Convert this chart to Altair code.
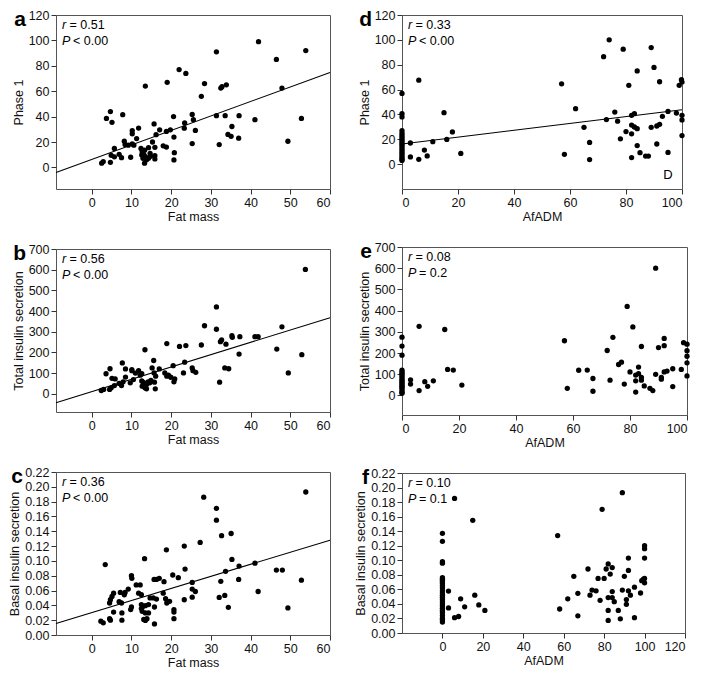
import altair as alt
import pandas as pd

FONT = "Liberation Sans"

# ---------------- Panel a: Phase 1 vs Fat mass ----------------
a_x = [42.0, 53.9, 31.4, 46.5, 22.0, 23.7, 13.5, 19.0, 28.4, 32.5, 32.8, 33.9, 47.9, 27.6,
       4.7, 3.7, 5.1, 7.8, 20.6, 25.3, 25.6, 31.4, 33.6, 37.1, 41.1, 52.8, 15.7, 23.4, 35.3,
       11.8, 10.2, 10.2, 17.1, 18.8, 19.8, 23.3, 26.1, 16.2, 34.3, 35.1, 37.0, 20.7, 11.3,
       8.2, 15.3, 25.3, 32.1, 49.4, 8.4, 9.2, 10.2, 10.6, 12.4, 14.3, 15.9, 18.0, 18.8, 5.7,
       12.7, 13.3, 13.1, 14.7, 20.8, 6.9, 4.9, 5.7, 7.5, 9.8, 12.9, 13.5, 14.3, 15.9, 15.9,
       13.3, 20.7, 4.7, 2.5, 2.9, 12.6, 13.8, 14.8]
a_y = [99, 92, 91, 85, 77, 74, 64, 67, 66, 62.5, 63.5, 65, 62.5, 56,
       44, 38.6, 35.5, 41.5, 40, 41.7, 37.6, 40.7, 40.7, 40.7, 37.6, 38.6, 34.2, 35, 32.2,
       31, 29, 26.5, 29.6, 28.3, 29.6, 30.9, 29.1, 25.8, 26, 24.5, 23, 23.9, 22.7,
       20.6, 20, 18.8, 18, 20.6, 18, 17.5, 18.5, 17.5, 14.9, 15.5, 15.8, 17, 16, 14.9,
       12.4, 13.6, 10.3, 11.1, 11.6, 10.3, 9.5, 8.3, 7.7, 8, 7.2, 8.5, 7.2, 9.3, 6.7,
       3.3, 5.9, 4, 3.3, 4.6, 9.8, 6, 8.8]
a_line_x = [-9, 60]
a_line_y = [-4, 74.7]

# ---------------- Panel b: Total insulin secretion vs Fat mass ----------------
b_x = [53.8, 31.4, 28.4, 31.4, 47.9, 18.9, 13.4, 22.1, 23.7, 27.6, 32.4, 32.7, 33.8, 35.3,
       35.4, 37.3, 41.1, 41.9, 37.1, 46.6, 52.9, 49.5, 32.2, 33.5, 34.5, 20.5, 23.4, 23.1,
       25.3, 25.5, 26.2, 7.7, 15.6, 10.1, 10.1, 8.5, 11.8, 12.6, 15.2, 17.0, 4.6, 3.6, 18.4,
       18.9, 19.3, 19.9, 15.7, 16.1, 5.1, 5.9, 8.5, 10.5, 20.9, 20.7, 9.7, 7.9, 7.5, 5.7,
       6.9, 12.6, 13.0, 13.4, 14.2, 14.9, 12.7, 13.4, 13.8, 14.6, 15.8, 16.0, 4.9, 4.5, 2.4,
       3.0, 13.8, 12.2, 11.0, 13.2]
b_y = [601, 420, 329, 312, 324, 243, 213, 229, 233, 236, 252, 260, 240, 281,
       273, 276, 276, 276, 192, 216, 189, 101, 56, 125, 121, 136, 153, 101,
       125, 112, 104, 149, 161, 112, 117, 120, 112, 97, 125, 120, 121, 97, 101,
       85, 90, 80, 101, 85, 75, 72, 81, 69, 72, 58, 53, 58, 40, 40,
       50, 62, 55, 48, 58, 65, 37, 29, 45, 53, 56, 24, 29, 21, 16,
       21, 24, 90, 100, 40]
b_line_x = [-9, 60]
b_line_y = [-43, 368]

# ---------------- Panel c: Basal insulin secretion vs Fat mass ----------------
c_x = [53.9, 28.2, 31.4, 31.4, 35.1, 32.7, 27.3, 23.3, 18.8, 13.3, 3.4, 35.3, 23.5, 41.1,
       37.1, 33.7, 46.5, 48.0, 10.0, 10.1, 20.4, 21.8, 15.7, 16.3, 17.0, 18.2, 32.5, 37.0,
       52.8, 11.2, 12.2, 25.3, 9.2, 25.3, 26.1, 41.9, 11.8, 12.5, 5.5, 7.2, 8.2, 8.4, 18.0,
       5.1, 4.7, 4.5, 6.9, 7.5, 14.7, 15.5, 25.3, 32.1, 33.5, 12.5, 12.8, 13.5, 14.3, 16.3,
       18.6, 18.9, 19.6, 23.3, 10.0, 9.8, 12.5, 12.7, 14.3, 13.5, 7.6, 5.5, 15.8, 20.7, 20.7,
       34.4, 49.4, 13.1, 13.5, 13.9, 20.7, 4.5, 4.7, 7.6, 2.3, 2.9, 15.8]
c_y = [0.193, 0.186, 0.171, 0.155, 0.137, 0.134, 0.125, 0.120, 0.115, 0.103, 0.095, 0.102, 0.089, 0.097,
       0.093, 0.086, 0.0877, 0.0877, 0.080, 0.0765, 0.081, 0.0774, 0.075, 0.075, 0.0765, 0.072, 0.0725, 0.075,
       0.074, 0.0676, 0.0676, 0.071, 0.062, 0.062, 0.0587, 0.0587, 0.0565, 0.0543, 0.0565, 0.0574, 0.0543, 0.0574, 0.0565,
       0.052, 0.0476, 0.0432, 0.045, 0.0432, 0.050, 0.050, 0.051, 0.0507, 0.0534, 0.041, 0.038, 0.0396, 0.041, 0.0485,
       0.049, 0.0432, 0.0454, 0.0476, 0.0378, 0.0343, 0.0356, 0.032, 0.0298, 0.0298, 0.0298, 0.031, 0.0378, 0.0343, 0.031,
       0.0374, 0.0365, 0.021, 0.0196, 0.022, 0.022, 0.022, 0.020, 0.020, 0.0187, 0.0165, 0.015]
c_line_x = [-9, 60]
c_line_y = [0.0156, 0.128]

# ---------------- Panel d: Phase 1 vs AfADM ----------------
d_x = [0] * 20 + [
    74, 72, 79, 89, 90, 84, 6, 57, 81, 92, 99.8, 100, 99, 62, 15, 76, 82, 83, 95, 98, 100, 100,
    93, 73, 77, 82, 83, 84, 89, 91, 92, 65, 18, 82, 80, 16, 78, 100, 3, 11, 67, 84, 91, 8, 85,
    95, 21, 58, 9, 3, 87, 88, 6, 67, 82]
d_y = [56.9, 40.6, 38, 27, 25, 23.5, 22, 20.5, 19, 17.5, 16, 14.5, 13, 11.5, 10, 8.5, 7, 5.5, 4, 3] + [
    100, 86.5, 92.5, 93.8, 77.8, 75, 67.6, 64.6, 63.4, 66.3, 68, 66, 63.4, 44.6, 41.4, 41.9, 39.3,
    40.6, 42.4, 41.1, 39.3, 35.6, 38.5, 35.9, 34.6, 31.4, 29.9, 28.5, 29.6, 30.7, 32, 29.6, 25.9,
    24.4, 26.2, 19.9, 20.4, 23, 17, 18.1, 17.5, 14.9, 16.2, 11.3, 9.2, 9.4, 8.6, 7.9, 6.6, 5.8,
    6.5, 6.5, 3.9, 3.7, 5.3]
d_line_x = [0, 100]
d_line_y = [16.2, 43.8]

# ---------------- Panel e: Total insulin secretion vs AfADM ----------------
e_x = [0] * 19 + [
    79, 81, 6, 15, 57, 74, 92, 92, 84, 90, 98.8, 100, 100, 100, 100, 72, 77, 76, 62, 65, 16, 18,
    83, 80, 82, 83, 84, 84, 89, 91, 91, 92, 93, 95, 98, 100, 67, 73, 78, 82, 85, 87, 88, 95, 58,
    67, 82, 89, 3, 3, 8, 9, 11, 21, 6]
e_y = [275, 233, 190, 120, 112, 105, 97, 90, 80, 72, 65, 58, 50, 44, 38, 30, 22, 15, 10] + [
    420, 323, 326, 311, 258, 274, 269, 235, 231, 226, 249, 242, 211, 185, 154, 212, 157, 146, 119,
    120, 123, 120, 134, 111, 96, 103, 85, 72, 100, 85, 77, 111, 115, 126, 123, 92, 80, 72, 54, 69,
    45, 34, 23, 42, 34, 20, 16, 600, 74, 54, 65, 43, 69, 49, 23]

# ---------------- Panel f: Basal insulin secretion vs AfADM ----------------
f_x = [0] * 26 + [
    89, 79, 6, 15, 57, 100, 100, 100, 92, 72, 81, 82, 84, 83, 92, 65, 77, 80, 90, 99.4, 100, 100,
    98.6, 95, 67, 74, 76, 73, 84, 89, 92, 98, 93, 62, 78, 82, 84, 85, 91, 91, 58, 82, 87, 67, 82,
    88, 95, 3, 3, 9, 11, 16, 18, 21, 6, 8]
f_y = [0.137, 0.126, 0.098, 0.096, 0.076, 0.074, 0.072, 0.070, 0.068, 0.065, 0.062, 0.058, 0.055,
       0.052, 0.049, 0.046, 0.043, 0.040, 0.037, 0.034, 0.031, 0.028, 0.024, 0.020, 0.018, 0.015] + [
    0.193, 0.170, 0.185, 0.155, 0.134, 0.120, 0.116, 0.103, 0.103, 0.088, 0.088, 0.095, 0.090, 0.081,
    0.086, 0.078, 0.075, 0.075, 0.078, 0.074, 0.075, 0.069, 0.072, 0.063, 0.0545, 0.059, 0.058, 0.052,
    0.057, 0.059, 0.058, 0.055, 0.052, 0.047, 0.045, 0.0487, 0.0487, 0.043, 0.046, 0.0395, 0.033,
    0.031, 0.031, 0.0236, 0.0173, 0.0195, 0.021, 0.0577, 0.0345, 0.047, 0.036, 0.052, 0.0386, 0.031,
    0.021, 0.0227]

fat_ticks = [0, 10, 20, 30, 40, 50, 60]
adm_ticks = [0, 20, 40, 60, 80, 100]
adm_ticks_f = [0, 20, 40, 60, 80, 100, 120]
phase_ticks = [0, 20, 40, 60, 80, 100, 120]
total_ticks = [0, 100, 200, 300, 400, 500, 600, 700]
basal_ticks = [0.00, 0.02, 0.04, 0.06, 0.08, 0.10, 0.12, 0.14, 0.16, 0.18, 0.20, 0.22]


def txt(s, x, y, **kw):
    return alt.Chart(pd.DataFrame({"t": [s]})).mark_text(
        font=FONT, color="black", align="left", baseline="middle", **kw
    ).encode(x=alt.value(x), y=alt.value(y), text="t:N")


def panel(xs, ys, xdom, ydom, xt, yt, xtitle, ytitle, letter, rval, pstr, w, h,
          yfmt="d", line=None, letter_dx=-30, extra=None):
    xsc = alt.Scale(domain=xdom, nice=False, zero=False)
    ysc = alt.Scale(domain=ydom, nice=False, zero=False)
    xax = alt.Axis(values=xt, title=xtitle, format="d", titlePadding=2)
    yax = alt.Axis(values=yt, title=ytitle, format=yfmt, titlePadding=3)
    X = alt.X("x:Q", scale=xsc, axis=xax)
    Y = alt.Y("y:Q", scale=ysc, axis=yax)
    layers = [
        alt.Chart(pd.DataFrame({"x": xs, "y": ys})).mark_circle(
            size=28, color="black", opacity=1
        ).encode(x=X, y=Y)
    ]
    if line is not None:
        layers.append(
            alt.Chart(pd.DataFrame({"x": line[0], "y": line[1]})).mark_line(
                color="black", strokeWidth=1.1
            ).encode(x=X, y=Y)
        )
    if extra is not None:
        layers.append(
            alt.Chart(pd.DataFrame({"x": [extra[0]], "y": [extra[1]], "t": [extra[2]]})).mark_text(
                font=FONT, fontSize=13, color="black", align="center", baseline="middle"
            ).encode(x=X, y=Y, text="t:N")
        )
    layers += [
        txt("r", 6, 10, fontSize=12.5, fontStyle="italic"),
        txt("= " + rval, 13.5, 10, fontSize=12.5),
        txt("P", 6, 26, fontSize=12.5, fontStyle="italic"),
        txt(pstr, 17, 26, fontSize=12.5),
        alt.Chart(pd.DataFrame({"t": [letter]})).mark_text(
            font=FONT, fontSize=21, fontWeight="bold", color="black",
            align="right", baseline="alphabetic"
        ).encode(x=alt.value(letter_dx), y=alt.value(11), text="t:N"),
    ]
    return alt.layer(*layers).properties(width=w, height=h)


pa = panel(a_x, a_y, [-9, 60], [-17, 120], fat_ticks, phase_ticks, "Fat mass", "Phase 1",
           "a", "0.51", "< 0.00", 274, 174, line=(a_line_x, a_line_y))
pb = panel(b_x, b_y, [-9, 60], [-88, 700], fat_ticks, total_ticks, "Fat mass",
           "Total insulin secretion", "b", "0.56", "< 0.00", 274, 163, line=(b_line_x, b_line_y))
pc = panel(c_x, c_y, [-9, 60], [0, 0.22], fat_ticks, basal_ticks, "Fat mass",
           "Basal insulin secretion", "c", "0.36", "< 0.00", 274, 163, yfmt=".2f",
           line=(c_line_x, c_line_y), letter_dx=-33)
pd_ = panel(d_x, d_y, [0, 100], [-20, 120], adm_ticks, phase_ticks, "AfADM", "Phase 1",
            "d", "0.33", "< 0.00", 280, 174, line=(d_line_x, d_line_y), extra=(95, -9, "D"))
pe = panel(e_x, e_y, [0, 100], [-92, 700], adm_ticks, total_ticks, "AfADM",
           "Total insulin secretion", "e", "0.08", "= 0.2", 285, 168)
pf = panel(f_x, f_y, [-20, 120], [0, 0.22], adm_ticks_f, basal_ticks, "AfADM",
           "Basal insulin secretion", "f", "0.10", "= 0.1", 283, 160, yfmt=".2f", letter_dx=-33)

left = alt.vconcat(pa, pb, pc, spacing=18)
right = alt.vconcat(pd_, pe, pf, spacing=16)

chart = alt.hconcat(left, right, spacing=21).properties(padding=0).configure_view(
    stroke="#555", strokeWidth=1
).configure_axis(
    labelFont=FONT, titleFont=FONT, labelFontSize=12.5, titleFontSize=12.5,
    titleFontWeight="normal", labelColor="#111", titleColor="#111",
    tickColor="#333", tickSize=5, domain=False, grid=False, labelPadding=2
)

chart.save("out.html", embed_options={"renderer": "svg", "actions": False})
